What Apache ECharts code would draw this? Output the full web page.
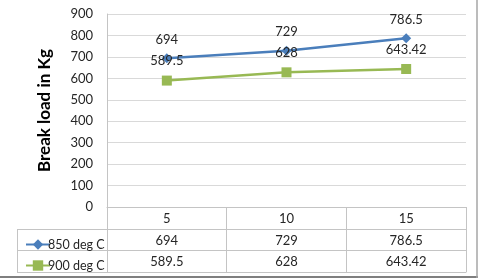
<!DOCTYPE html>
<html>
<head>
<meta charset="utf-8">
<script src="https://cdn.jsdelivr.net/npm/echarts@6/dist/echarts.min.js"></script>
<style>
html,body{margin:0;padding:0;background:#fff;}
#chart{width:480px;height:279px;}
</style>
</head>
<body>
<div id="chart"></div>
<script>
var categories = ['5', '10', '15'];
var seriesNames = ['850 deg C', '900 deg C'];
var s850 = [694, 729, 786.5];
var s900 = [589.5, 628, 643.42];
var yTicks = [0, 100, 200, 300, 400, 500, 600, 700, 800, 900];
var yTitle = 'Break load in Kg';

var FONT = 'Lato';
var TXT = '#262626';
var LINE = '#c4c4c4';
var GRID = '#d9d9d9';

var chart = echarts.init(document.getElementById('chart'));

function rowAxis(values, offset) {
  return {
    type: 'category', gridIndex: 0, position: 'bottom', offset: offset,
    data: values.map(String), boundaryGap: true,
    axisLine: {show: true, lineStyle: {color: LINE, width: 1}},
    axisTick: {show: false},
    axisLabel: {show: true, margin: 5, color: TXT, fontFamily: FONT, fontSize: 13},
    splitLine: {show: false}
  };
}

var option = {
  animation: false,
  textStyle: {fontFamily: FONT},
  grid: {left: 107, right: 14, top: 14, bottom: 72, containLabel: false},
  legend: {
    orient: 'vertical', left: 20, top: 233, itemGap: 8,
    itemWidth: 24, itemHeight: 13,
    textStyle: {color: TXT, fontFamily: FONT, fontSize: 12.5, padding: [0, 0, 0, -7]},
    data: seriesNames
  },
  xAxis: [
    {
      type: 'category', data: categories, boundaryGap: true,
      axisLine: {show: true, lineStyle: {color: LINE}},
      axisTick: {show: true, inside: false, length: 65, lineStyle: {color: LINE}},
      axisLabel: {margin: 5, color: TXT, fontFamily: FONT, fontSize: 13},
      splitLine: {show: false}
    },
    rowAxis(s850, 22),
    rowAxis(s900, 43),
    {
      type: 'category', gridIndex: 0, position: 'bottom', offset: 65,
      data: categories, boundaryGap: true,
      axisLine: {show: true, lineStyle: {color: LINE}},
      axisTick: {show: false}, axisLabel: {show: false}
    }
  ],
  yAxis: {
    type: 'value', min: yTicks[0], max: yTicks[yTicks.length - 1], interval: 100,
    name: yTitle, nameLocation: 'middle', nameGap: 54, nameRotate: 90,
    nameTextStyle: {fontFamily: FONT, fontSize: 17, fontWeight: 'bold', color: '#000'},
    axisLine: {show: true, lineStyle: {color: LINE}},
    axisTick: {show: false},
    axisLabel: {margin: 14, color: TXT, fontFamily: FONT, fontSize: 13},
    splitLine: {show: true, lineStyle: {color: GRID}}
  },
  series: [
    {
      name: seriesNames[0], type: 'line', data: s850, xAxisIndex: 0,
      symbol: 'diamond', symbolSize: 10,
      lineStyle: {color: '#4a7ebb', width: 2.5},
      itemStyle: {color: '#4a7ebb'},
      label: {show: true, position: 'top', distance: 7, color: TXT, fontFamily: FONT, fontSize: 13}
    },
    {
      name: seriesNames[1], type: 'line', data: s900, xAxisIndex: 0,
      symbol: 'rect', symbolSize: 10,
      lineStyle: {color: '#98b954', width: 2.5},
      itemStyle: {color: '#98b954'},
      label: {show: true, position: 'top', distance: 8, color: TXT, fontFamily: FONT, fontSize: 13}
    }
  ],
  graphic: [
    {type: 'line', shape: {x1: 17, y1: 229.5, x2: 107, y2: 229.5}, style: {stroke: LINE, lineWidth: 1}},
    {type: 'line', shape: {x1: 17, y1: 250.5, x2: 107, y2: 250.5}, style: {stroke: LINE, lineWidth: 1}},
    {type: 'line', shape: {x1: 17, y1: 272.5, x2: 107, y2: 272.5}, style: {stroke: LINE, lineWidth: 1}},
    {type: 'line', shape: {x1: 17.5, y1: 229, x2: 17.5, y2: 273}, style: {stroke: LINE, lineWidth: 1}},
    {type: 'line', shape: {x1: 0, y1: 277, x2: 478, y2: 277}, style: {stroke: '#7f7f7f', lineWidth: 2}},
    {type: 'line', shape: {x1: 477, y1: 0, x2: 477, y2: 278}, style: {stroke: '#a6a6a6', lineWidth: 1.5}}
  ]
};
chart.setOption(option);
</script>
</body>
</html>
